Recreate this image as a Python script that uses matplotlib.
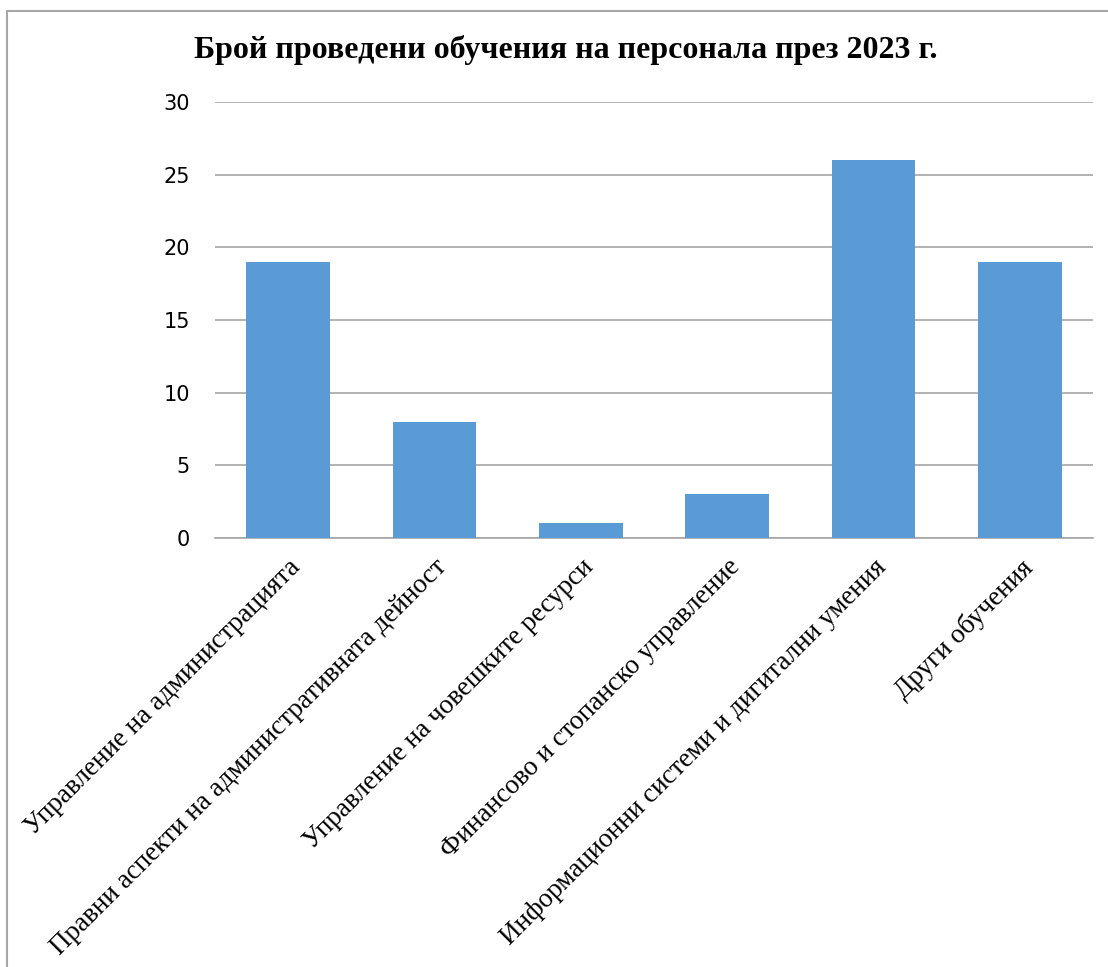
import matplotlib
matplotlib.use("Agg")
import matplotlib.pyplot as plt
from matplotlib.patches import Rectangle

categories = [
    "Управление на администрацията",
    "Правни аспекти на административната дейност",
    "Управление на човешките ресурси",
    "Финансово и стопанско управление",
    "Информационни системи и дигитални умения",
    "Други обучения",
]
values = [19, 8, 1, 3, 26, 19]
yticks = [0, 5, 10, 15, 20, 25, 30]
title = "Брой проведени обучения на персонала през 2023 г."

fig = plt.figure(figsize=(11.08, 9.67), dpi=100)
ax = fig.add_axes([215/1108, 1-538/967, (1093-215)/1108, (538-102)/967])

x = list(range(len(categories)))
ax.bar(x, values, width=0.57, color="#5B9BD5", zorder=3)
ax.set_xlim(-0.5, len(categories) - 0.5)
ax.set_ylim(0, 30)
ax.set_yticks(yticks)
ax.set_yticklabels([str(v) for v in yticks], fontsize=15, family="DejaVu Sans")
ax.yaxis.grid(True, color="#A6A6A6", linewidth=1.2, zorder=0)
ax.tick_params(axis="y", length=0, pad=18)
ax.tick_params(axis="x", length=0, pad=12)
ax.set_xticks(x)
ax.set_xticklabels(categories, rotation=45, ha="right", rotation_mode="anchor",
                   fontsize=19.5, family="Liberation Serif")
for s in ["top", "right", "left"]:
    ax.spines[s].set_visible(False)
ax.spines["bottom"].set_color("#A6A6A6")
ax.spines["bottom"].set_linewidth(1.2)

fig.text(566/1108, 1-50/967, title, ha="center", va="center", fontsize=23,
         fontweight="bold", family="Liberation Serif")

fig.patches.append(Rectangle((7/1108, -0.1), 1.2, 1-11/967 + 0.1, transform=fig.transFigure,
                             fill=False, edgecolor="#A6A6A6", linewidth=1.5))

fig.savefig("out.png", dpi=100)
